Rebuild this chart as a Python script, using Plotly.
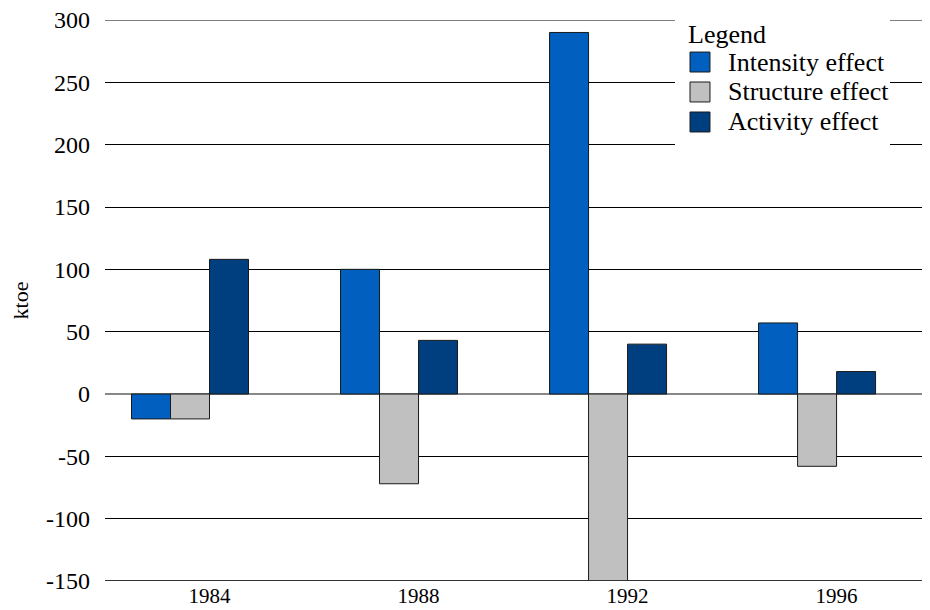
import plotly.graph_objects as go

years = ["1984", "1988", "1992", "1996"]
intensity = [-20, 100, 290, 57]
structure = [-20, -72, -150, -58]
activity = [108, 43, 40, 18]
y_ticks = [-150, -100, -50, 0, 50, 100, 150, 200, 250, 300]
y_tick_labels = ["-150", "-100", "-50", "0", "50", "100", "150", "200", "250", "300"]

series_names = ["Intensity effect", "Structure effect", "Activity effect"]
series_values = [intensity, structure, activity]
series_colors = ["#005FBF", "#C0C0C0", "#003F7F"]

SERIF = '"Liberation Serif", "Times New Roman", Times, serif'
BAR_W = 0.1866
OFFSETS = [-2 * BAR_W, -1 * BAR_W, 0.0]

fig = go.Figure()
for name, vals, col, off in zip(series_names, series_values, series_colors, OFFSETS):
    fig.add_trace(go.Bar(
        x=years, y=vals, name=name, width=BAR_W, offset=off,
        marker=dict(color=col, line=dict(color="#1a1a1a", width=1)),
        showlegend=False,
    ))

# the page body has an 8px margin, so the figure is sized/offset to compensate
fig.update_layout(
    width=922, height=602,
    margin=dict(l=97, r=0, t=12, b=29),
    paper_bgcolor="white", plot_bgcolor="white",
    font=dict(family=SERIF, color="black", size=22),
    barmode="overlay",
    showlegend=False,
)
fig.update_xaxes(
    type="category", range=[-0.5, 3.447], automargin=False,
    showgrid=False, showline=False, zeroline=False,
    tickfont=dict(size=21, family=SERIF), ticks="",
)
fig.update_yaxes(
    range=[y_ticks[0], y_ticks[-1]], tickvals=y_ticks, ticktext=y_tick_labels,
    automargin=False, ticklabeloverflow="allow",
    showgrid=True, gridcolor="black", gridwidth=1,
    zeroline=True, zerolinecolor="#888888", zerolinewidth=1.5,
    tickfont=dict(size=24, family=SERIF), ticklabelstandoff=14,
    title=dict(text="ktoe", font=dict(size=22, family=SERIF), standoff=14),
    showline=False,
)
fig.add_shape(type="line", xref="paper", yref="y", x0=0, x1=1,
              y0=y_ticks[0], y1=y_ticks[0],
              line=dict(color="#333333", width=2), layer="above")
fig.add_shape(type="line", xref="paper", yref="y", x0=0, x1=1,
              y0=y_ticks[-1], y1=y_ticks[-1],
              line=dict(color="black", width=1), layer="below")

# legend box (drawn manually to match the compact spacing of the original)
fig.add_shape(type="rect", xref="paper", yref="paper",
              x0=0.6909, x1=0.9515, y0=0.7683, y1=1.0143,
              fillcolor="white", line=dict(width=0), layer="above")
fig.add_annotation(text="Legend", xref="paper", yref="paper", x=0.7042, y=0.9733,
                   xanchor="left", yanchor="middle", showarrow=False,
                   font=dict(size=26, family=SERIF, color="black"))
row_y = [0.9251, 0.8717, 0.8182]
half = 0.0178
for name, col, ry in zip(series_names, series_colors, row_y):
    fig.add_shape(type="rect", xref="paper", yref="paper",
                  x0=0.7091, x1=0.7333, y0=ry - half, y1=ry + half,
                  fillcolor=col, line=dict(color="#1a1a1a", width=1), layer="above")
    fig.add_annotation(text=name, xref="paper", yref="paper", x=0.7527, y=ry,
                       xanchor="left", yanchor="middle", showarrow=False,
                       font=dict(size=26, family=SERIF, color="black"))

fig.write_html("out.html")
